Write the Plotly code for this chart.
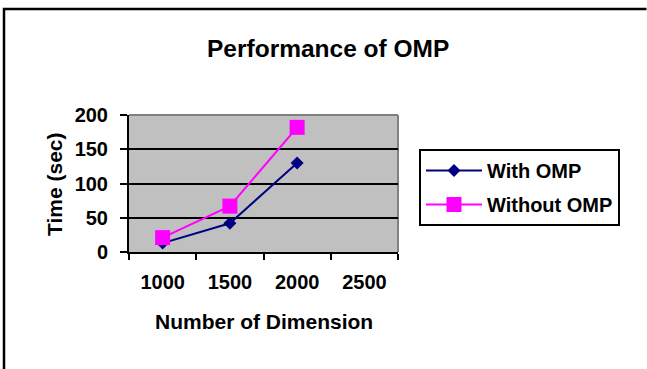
import plotly.graph_objects as go

# Data
dimensions = ["1000", "1500", "2000", "2500"]
with_omp = [13, 42, 130, None]
without_omp = [21, 67, 182, None]
y_ticks = [0, 50, 100, 150, 200]

# Page and plot-area geometry (pixels)
WIDTH, HEIGHT = 647, 369
ML, MR, MT, MB = 129, 249, 115, 117
PW = WIDTH - ML - MR
PH = HEIGHT - MT - MB


def xp(px):
    return (px - ML) / PW


def yp(py):
    return (HEIGHT - MB - py) / PH


FONT = "Liberation Sans, Arial, sans-serif"

fig = go.Figure()
fig.add_trace(go.Scatter(
    x=dimensions, y=with_omp, name="<b>With OMP</b>", mode="lines+markers",
    line=dict(color="#000080", width=2),
    marker=dict(symbol="diamond", size=10, color="#000080"),
    legendgroup="a",
))
fig.add_trace(go.Scatter(
    x=dimensions, y=without_omp, name="<b>Without OMP</b>", mode="lines+markers",
    line=dict(color="#FF00FF", width=2),
    marker=dict(symbol="square", size=15, color="#FF00FF"),
    legendgroup="b",
))

fig.update_layout(
    width=WIDTH, height=HEIGHT,
    margin=dict(l=ML, r=MR, t=MT, b=MB, pad=0),
    paper_bgcolor="white", plot_bgcolor="#C0C0C0",
    font=dict(family=FONT, color="black", size=20),
    showlegend=True,
    legend=dict(
        x=xp(419), y=yp(149), xanchor="left", yanchor="top",
        bordercolor="black", borderwidth=2, bgcolor="white",
        font=dict(size=20, family=FONT, color="black"),
        itemwidth=56, tracegroupgap=5, traceorder="grouped",
    ),
    xaxis=dict(
        type="category", categoryorder="array", categoryarray=dimensions,
        range=[-0.5, 3.5], tickson="boundaries",
        ticks="outside", ticklen=6, tickwidth=2, tickcolor="black",
        showline=True, linecolor="black", linewidth=2,
        showgrid=False, zeroline=False,
        tickfont=dict(size=20, family=FONT, color="black"),
        ticklabelstandoff=11,
    ),
    yaxis=dict(
        range=[0, 200], tickvals=y_ticks,
        ticktext=[f"<b>{v}</b>" for v in y_ticks],
        ticks="outside", ticklen=7, tickwidth=2, tickcolor="black",
        showline=True, linecolor="black", linewidth=2,
        showgrid=True, gridcolor="black", gridwidth=2, zeroline=False,
        tickfont=dict(size=20, family=FONT, color="black"),
        ticklabelstandoff=8,
    ),
)
fig.update_xaxes(ticktext=[f"<b>{d}</b>" for d in dimensions], tickvals=dimensions)

# Grey border of the plot area on the top and right edges
fig.add_shape(type="line", xref="paper", yref="paper", x0=0, x1=1, y0=1, y1=1,
              line=dict(color="#808080", width=2), layer="between")
fig.add_shape(type="line", xref="paper", yref="paper", x0=1, x1=1, y0=0, y1=1,
              line=dict(color="#808080", width=2), layer="between")

# Outer chart frame: one path along the left and top edges
fig.add_shape(type="path", xref="paper", yref="paper",
              path=f"M {xp(4)},{yp(380)} L {xp(4)},{yp(9)} L {xp(646.5)},{yp(9)}",
              line=dict(color="black", width=2.5), layer="above")

# Titles
fig.add_annotation(text="<b>Performance of OMP</b>", xref="paper", yref="paper",
                   x=xp(328), y=yp(49), xanchor="center", yanchor="middle",
                   showarrow=False, font=dict(size=24.5, family=FONT, color="black"))
fig.add_annotation(text="<b>Number of Dimension</b>", xref="paper", yref="paper",
                   x=xp(263.5), y=yp(321), xanchor="center", yanchor="middle",
                   showarrow=False, font=dict(size=21, family=FONT, color="black"))
fig.add_annotation(text="<b>Time (sec)</b>", xref="paper", yref="paper",
                   x=xp(54), y=yp(184), xanchor="center", yanchor="middle",
                   textangle=-90, showarrow=False,
                   font=dict(size=21, family=FONT, color="black"))

# Keep the page free of scrollbars
fig.write_html(
    "out.html",
    config={"displayModeBar": False},
    post_script="document.documentElement.style.overflow='hidden';"
                "document.body.style.overflow='hidden';"
                "document.body.style.margin='0';",
)
